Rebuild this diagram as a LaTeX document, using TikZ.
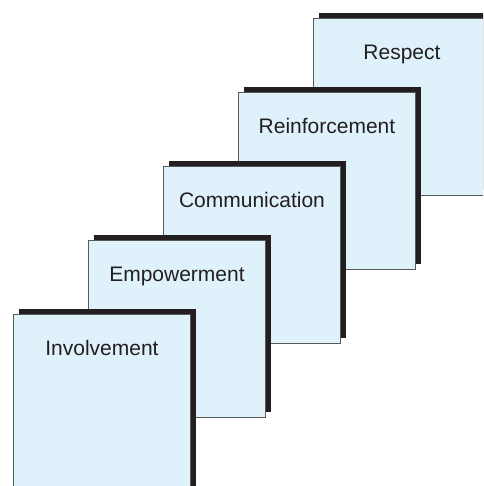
\documentclass[tikz,border=0pt]{standalone}
\usepackage{fontspec}
\setmainfont{Liberation Sans}
\usepackage{xcolor}
\usetikzlibrary{shadows}
\definecolor{cardfill}{HTML}{DFF1FA}
\definecolor{cardline}{HTML}{58595B}
\definecolor{shadowdark}{HTML}{231F20}

\begin{document}
\begin{tikzpicture}
	[x=1pt,y=1pt,
	card/.style={rectangle,anchor=north west,draw=cardline,line width=0.9pt,fill=cardfill,
		minimum width=177pt,minimum height=177pt,inner sep=0pt,
		drop shadow={shadow xshift=5.5pt,shadow yshift=5.5pt,fill=shadowdark,opacity=1}},
	cardtext/.style={anchor=base,text=shadowdark,font=\fontsize{21}{25}\selectfont}]
	\useasboundingbox (0,0) rectangle (483,486);
	\clip (0,0) rectangle (483,486);
	\foreach \i/\nm/\txt in {4/respect/Respect,3/reinforcement/Reinforcement,
		2/communication/Communication,1/empowerment/Empowerment,0/involvement/Involvement}
	{
		\node [card] (\nm) at (13+75*\i,172+74*\i) {};
		\node [cardtext] (\nm-text) at ([yshift=-42pt]\nm.north) {\txt};
	}
\end{tikzpicture}
\end{document}
